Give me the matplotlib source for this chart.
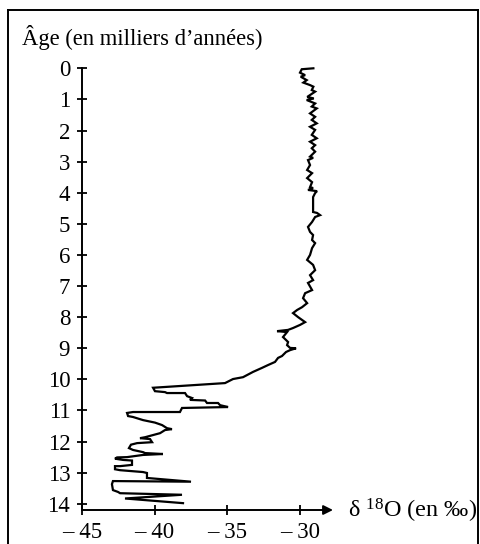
import matplotlib
matplotlib.use("Agg")
import matplotlib.pyplot as plt
from matplotlib.lines import Line2D

plt.rcParams['font.family'] = ['Liberation Serif', 'DejaVu Serif']
plt.rcParams['mathtext.fontset'] = 'custom'
plt.rcParams['mathtext.rm'] = 'Liberation Serif'
plt.rcParams['mathtext.default'] = 'regular'

# Age (thousands of years) and delta 18O (per mil)
age = [0.00, 0.03, 0.14, 0.22, 0.27, 0.38, 0.46, 0.54, 0.59, 0.70, 0.75,
       0.92, 0.97, 1.02, 1.13, 1.23, 1.29, 1.45, 1.56, 1.66, 1.77, 1.88,
       1.98, 2.14, 2.25, 2.36, 2.47, 2.57, 2.68, 2.84, 2.88, 2.95, 3.11,
       3.27, 3.37, 3.53, 3.66, 3.82, 3.85, 3.91, 3.95, 4.01, 4.14, 4.62,
       4.65, 4.72, 4.78, 4.94, 5.10, 5.26, 5.36, 5.52, 5.62, 5.78, 6.00,
       6.16, 6.32, 6.49, 6.65, 6.81, 6.90, 7.13, 7.23, 7.39, 7.55, 7.68,
       7.77, 7.87, 8.00, 8.09, 8.16, 8.25, 8.35, 8.41, 8.45, 8.48, 8.64,
       8.80, 8.90, 8.99, 9.00, 9.06, 9.12, 9.25, 9.31, 9.44, 9.54, 9.63,
       9.76, 9.93, 9.99, 10.12, 10.27, 10.38, 10.41, 10.44, 10.44, 10.54,
       10.60, 10.66, 10.68, 10.76, 10.76, 10.83, 10.89, 10.92, 11.05, 11.05,
       11.08, 11.18, 11.21, 11.31, 11.39, 11.47, 11.57, 11.60, 11.63, 11.73,
       11.79, 11.86, 11.89, 11.92, 12.02, 12.05, 12.10, 12.21, 12.27, 12.34,
       12.37, 12.40, 12.43, 12.50, 12.51, 12.55, 12.59, 12.61, 12.75, 12.79,
       12.79, 12.89, 12.92, 12.98, 13.01, 13.17, 13.29, 13.27, 13.37, 13.56,
       13.62, 13.66, 13.71, 13.83, 13.98]
d18o = [-29.08, -29.88, -30.00, -29.65, -29.95, -29.54, -29.77, -29.31, -29.08, -29.19, -28.96,
        -29.50, -29.05, -29.54, -28.96, -29.19, -28.85, -29.31, -28.96, -29.19, -28.85, -29.31,
        -28.96, -29.19, -28.85, -29.31, -28.96, -29.19, -28.96, -29.31, -29.10, -29.45, -29.31,
        -29.51, -29.17, -29.51, -29.17, -29.31, -29.10, -29.45, -28.83, -28.96, -29.10, -29.10,
        -28.83, -28.62, -28.96, -29.17, -29.45, -29.31, -29.10, -29.17, -28.96, -29.17, -29.31,
        -29.51, -29.10, -28.96, -29.31, -29.10, -29.45, -29.17, -29.65, -29.79, -29.51, -29.86,
        -30.20, -30.48, -30.13, -29.86, -29.65, -30.00, -30.48, -30.82, -31.58, -30.89, -31.17,
        -30.82, -30.89, -30.68, -30.27, -30.68, -30.96, -31.24, -31.51, -31.72, -32.20, -32.61,
        -33.23, -33.92, -34.61, -35.16, -40.11, -39.98, -39.29, -39.15, -37.91, -37.77,
        -37.43, -37.57, -36.53, -36.40, -35.64, -35.50, -34.95, -38.12, -38.26, -41.49,
        -41.90, -41.83, -41.49, -40.80, -39.98, -39.49, -39.15, -38.81, -39.29, -39.63,
        -40.11, -40.66, -41.01, -40.32, -40.18, -41.21, -41.63, -41.77, -41.49, -40.80,
        -40.66, -39.43, -40.80, -41.90, -42.59, -42.73, -42.18, -41.56, -41.56, -42.38,
        -42.73, -42.73, -42.38, -40.80, -40.53, -40.53, -37.50, -42.87, -42.94, -42.87,
        -42.52, -42.38, -38.12, -42.04, -38.05]

y_ticks = list(range(0, 15))
x_ticks = [-45, -40, -35, -30]
x_tick_labels = ['\u2013 45', '\u2013 40', '\u2013 35', '\u2013 30']

W, H = 481, 544
fig = plt.figure(figsize=(W / 100, H / 100), dpi=100)
ax = fig.add_axes([82 / W, 34 / H, 251 / W, 441.7 / H])
ax.set_xlim(-45, -27.73)
ax.set_ylim(14.2, 0)

ax.plot(d18o, age, color='black', lw=1.6, clip_on=False, solid_joinstyle='miter')

for s in ['top', 'right', 'bottom']:
    ax.spines[s].set_visible(False)
ax.spines['left'].set_linewidth(1.4)
ax.patch.set_visible(False)

ax.annotate('', xy=(1, 0), xytext=(0, 0), xycoords='axes fraction',
            textcoords='axes fraction',
            arrowprops=dict(arrowstyle='-|>', lw=1.4, color='black',
                            mutation_scale=14, shrinkA=0, shrinkB=0))

ax.set_yticks(y_ticks)
ax.set_yticklabels([str(v) for v in y_ticks])
ax.set_xticks(x_ticks)
ax.set_xticklabels(x_tick_labels)
ax.tick_params(axis='both', direction='inout', length=7, width=1.3,
               labelsize=16.5, colors='black')
ax.tick_params(axis='y', pad=5)
ax.tick_params(axis='x', pad=5)

fig.text(22 / W, 1 - 45 / H, "\u00c2ge (en milliers d\u2019ann\u00e9es)",
         fontsize=16.3, ha='left', va='baseline')
fig.text(348 / W, 1 - 518 / H, "\u03b4 $^{18}$O (en \u2030)",
         fontsize=17.5, ha='left', va='baseline')

lw = 1.4
fig.add_artist(Line2D([8 / W, 478 / W], [1 - 10 / H, 1 - 10 / H], color='black', lw=lw))
fig.add_artist(Line2D([8 / W, 8 / W], [0, 1 - 10 / H], color='black', lw=lw))
fig.add_artist(Line2D([478 / W, 478 / W], [0, 1 - 10 / H], color='black', lw=lw))

fig.savefig('out.png', dpi=100)
